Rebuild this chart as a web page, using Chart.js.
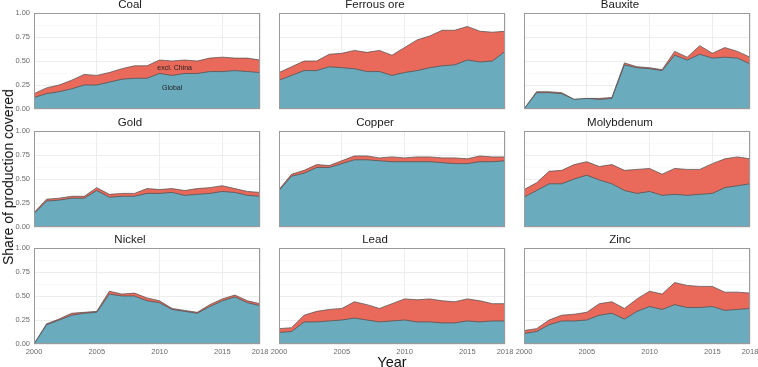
<!DOCTYPE html>
<html>
<head>
<meta charset="utf-8">
<title>Share of production covered</title>
<script src="https://cdn.jsdelivr.net/npm/chart.js@4.4.1/dist/chart.umd.min.js"></script>
<style>
  body { margin: 0; background: #fff; font-family: "Liberation Sans", Arial, sans-serif; }
  #wrap { position: relative; width: 758px; height: 367px; overflow: hidden; background: #fff; }
  #wrap canvas { position: absolute; }
  .axis-title { position: absolute; color: #111; font-weight: normal; white-space: nowrap; z-index: 2; }
  #ytitle { left: 7.5px; top: 177px; font-size: 14px; transform: translate(-50%, -50%) rotate(-90deg); }
  #xtitle { left: 392px; top: 362px; font-size: 14.5px; transform: translate(-50%, -50%); }
</style>
</head>
<body>
<div id="wrap">
  <div id="ytitle" class="axis-title">Share of production covered</div>
  <div id="xtitle" class="axis-title">Year</div>
</div>
<script>
// years on the x axis
const years = [2000, 2001, 2002, 2003, 2004, 2005, 2006, 2007, 2008, 2009,
               2010, 2011, 2012, 2013, 2014, 2015, 2016, 2017, 2018];
const xTicks = [2000, 2005, 2010, 2015, 2018];

// share of production covered
const coalGlobal = [0.12, 0.16, 0.18, 0.21, 0.25, 0.25, 0.28, 0.31, 0.32, 0.32, 0.37, 0.35, 0.37, 0.37, 0.39, 0.39, 0.40, 0.39, 0.38];
const coalExcl   = [0.16, 0.22, 0.25, 0.30, 0.36, 0.35, 0.38, 0.42, 0.45, 0.45, 0.51, 0.50, 0.51, 0.50, 0.53, 0.54, 0.53, 0.53, 0.51];
const ferrousGlobal = [0.30, 0.35, 0.40, 0.40, 0.44, 0.43, 0.42, 0.39, 0.39, 0.35, 0.38, 0.40, 0.43, 0.45, 0.46, 0.51, 0.49, 0.50, 0.60];
const ferrousExcl   = [0.38, 0.44, 0.50, 0.50, 0.57, 0.58, 0.61, 0.59, 0.61, 0.56, 0.64, 0.72, 0.76, 0.82, 0.82, 0.86, 0.81, 0.80, 0.81];
const bauxiteGlobal = [0.00, 0.17, 0.17, 0.16, 0.10, 0.11, 0.10, 0.11, 0.46, 0.43, 0.42, 0.40, 0.56, 0.51, 0.57, 0.53, 0.54, 0.53, 0.47];
const bauxiteExcl   = [0.00, 0.18, 0.18, 0.17, 0.10, 0.11, 0.11, 0.12, 0.48, 0.44, 0.43, 0.41, 0.60, 0.54, 0.66, 0.58, 0.64, 0.60, 0.54];
const goldGlobal = [0.14, 0.27, 0.28, 0.30, 0.30, 0.38, 0.31, 0.32, 0.32, 0.35, 0.35, 0.36, 0.33, 0.34, 0.35, 0.37, 0.36, 0.33, 0.32];
const goldExcl   = [0.15, 0.29, 0.30, 0.32, 0.32, 0.41, 0.34, 0.35, 0.35, 0.40, 0.39, 0.40, 0.38, 0.40, 0.41, 0.43, 0.40, 0.37, 0.36];
const copperGlobal = [0.38, 0.53, 0.56, 0.62, 0.62, 0.66, 0.70, 0.70, 0.69, 0.68, 0.68, 0.68, 0.68, 0.67, 0.66, 0.66, 0.68, 0.68, 0.69];
const copperExcl   = [0.39, 0.55, 0.59, 0.65, 0.64, 0.69, 0.74, 0.74, 0.72, 0.73, 0.72, 0.73, 0.73, 0.72, 0.72, 0.71, 0.74, 0.73, 0.73];
const molyGlobal = [0.31, 0.38, 0.45, 0.45, 0.50, 0.54, 0.49, 0.45, 0.38, 0.35, 0.37, 0.33, 0.34, 0.33, 0.34, 0.35, 0.41, 0.43, 0.45];
const molyExcl   = [0.39, 0.46, 0.58, 0.59, 0.65, 0.68, 0.63, 0.65, 0.59, 0.60, 0.61, 0.55, 0.61, 0.60, 0.60, 0.66, 0.71, 0.73, 0.71];
const nickelGlobal = [0.00, 0.20, 0.25, 0.30, 0.32, 0.33, 0.52, 0.50, 0.50, 0.45, 0.43, 0.36, 0.34, 0.32, 0.39, 0.45, 0.49, 0.43, 0.40];
const nickelExcl   = [0.00, 0.21, 0.26, 0.32, 0.33, 0.34, 0.55, 0.52, 0.53, 0.48, 0.45, 0.37, 0.35, 0.33, 0.41, 0.47, 0.51, 0.45, 0.42];
const leadGlobal = [0.12, 0.13, 0.23, 0.23, 0.24, 0.25, 0.27, 0.25, 0.23, 0.24, 0.25, 0.23, 0.23, 0.22, 0.22, 0.24, 0.23, 0.24, 0.24];
const leadExcl   = [0.16, 0.17, 0.30, 0.34, 0.36, 0.37, 0.44, 0.41, 0.37, 0.42, 0.47, 0.46, 0.47, 0.45, 0.44, 0.47, 0.45, 0.42, 0.42];
const zincGlobal = [0.11, 0.13, 0.20, 0.24, 0.24, 0.25, 0.30, 0.32, 0.26, 0.34, 0.39, 0.36, 0.41, 0.38, 0.38, 0.39, 0.35, 0.36, 0.37];
const zincExcl   = [0.14, 0.16, 0.25, 0.30, 0.31, 0.33, 0.42, 0.44, 0.37, 0.47, 0.55, 0.52, 0.64, 0.61, 0.60, 0.60, 0.54, 0.54, 0.53];

// in-panel labels on the Coal facet
const coalNotes = [
  { text: "excl. China", x: 2011.2, y: 0.43 },
  { text: "Global", x: 2011, y: 0.22 }
];

const panels = [
  { name: "Coal", global: coalGlobal, excl: coalExcl, notes: coalNotes },
  { name: "Ferrous ore", global: ferrousGlobal, excl: ferrousExcl },
  { name: "Bauxite", global: bauxiteGlobal, excl: bauxiteExcl },
  { name: "Gold", global: goldGlobal, excl: goldExcl },
  { name: "Copper", global: copperGlobal, excl: copperExcl },
  { name: "Molybdenum", global: molyGlobal, excl: molyExcl },
  { name: "Nickel", global: nickelGlobal, excl: nickelExcl },
  { name: "Lead", global: leadGlobal, excl: leadExcl },
  { name: "Zinc", global: zincGlobal, excl: zincExcl }
];

// facet geometry (plot area of each panel)
const colX = [34, 279, 524];
const rowY = [13, 131, 248];
const plotW = 226, plotH = 96;
const padL = 34, padR = 20, padT = 15, padB = 20;

const blue = "#6aabbd";
const red = "#e96a5b";
const edge = "#4a4a4a";
const font = "'Liberation Sans', Arial, sans-serif";

const toPoints = (vals) => vals.map((v, i) => ({ x: years[i], y: v }));

// grey frame around every facet
const panelBorder = {
  id: "panelBorder",
  afterDraw(chart) {
    const { ctx, chartArea: a } = chart;
    ctx.save();
    ctx.strokeStyle = "#9a9a9a";
    ctx.lineWidth = 1;
    ctx.strokeRect(a.left + 0.5, a.top + 0.5, a.width - 1, a.height - 1);
    ctx.restore();
  }
};

// text labels placed in data coordinates
const panelNotes = {
  id: "panelNotes",
  afterDatasetsDraw(chart, args, opts) {
    if (!opts.items) return;
    const { ctx, scales } = chart;
    ctx.save();
    ctx.font = "7px " + font;
    ctx.fillStyle = "#1f1f1f";
    ctx.textAlign = "center";
    ctx.textBaseline = "middle";
    opts.items.forEach((n) => {
      ctx.fillText(n.text, scales.x.getPixelForValue(n.x), scales.y.getPixelForValue(n.y));
    });
    ctx.restore();
  }
};

const wrap = document.getElementById("wrap");

panels.forEach((p, idx) => {
  const col = idx % 3, row = Math.floor(idx / 3);
  const canvas = document.createElement("canvas");
  const w = plotW + padL + padR, h = plotH + padT + padB;
  canvas.width = w;
  canvas.height = h;
  canvas.style.width = w + "px";
  canvas.style.height = h + "px";
  canvas.style.left = (colX[col] - padL) + "px";
  canvas.style.top = (rowY[row] - padT) + "px";
  wrap.insertBefore(canvas, wrap.firstChild);

  new Chart(canvas, {
    type: "line",
    data: {
      datasets: [
        { label: "Global", data: toPoints(p.global), backgroundColor: blue, borderColor: edge,
          borderWidth: 0.7, fill: "origin", pointRadius: 0, tension: 0 },
        { label: "excl. China", data: toPoints(p.excl), backgroundColor: red, borderColor: edge,
          borderWidth: 0.7, fill: "origin", pointRadius: 0, tension: 0 }
      ]
    },
    options: {
      responsive: false,
      animation: false,
      layout: { padding: { left: 0, right: padR, top: 0, bottom: 0 } },
      plugins: {
        legend: { display: false },
        tooltip: { enabled: false },
        title: {
          display: true,
          text: p.name,
          color: "#1a1a1a",
          font: { family: font, size: 11.5, weight: "normal", lineHeight: "12px" },
          padding: { top: 1, bottom: 2 }
        },
        panelNotes: { items: p.notes || null }
      },
      scales: {
        x: {
          type: "linear",
          min: 2000,
          max: 2018,
          afterBuildTicks: (scale) => { scale.ticks = xTicks.map((v) => ({ value: v })); },
          afterFit: (scale) => { scale.height = padB; },
          border: { display: false },
          grid: { color: "#e8e8e8", lineWidth: 0.8, drawTicks: false },
          ticks: {
            display: row === 2,
            autoSkip: false,
            maxRotation: 0,
            padding: 3,
            color: "#6b6b6b",
            font: { family: font, size: 7.5 },
            callback: (v) => String(v)
          }
        },
        y: {
          min: 0,
          max: 1,
          afterFit: (scale) => { scale.width = padL; },
          border: { display: false },
          grid: {
            drawTicks: false,
            color: (c) => (Math.round(c.tick.value * 1000) % 250 === 0 ? "#e8e8e8" : "#f3f3f3"),
            lineWidth: (c) => (Math.round(c.tick.value * 1000) % 250 === 0 ? 0.8 : 0.5)
          },
          ticks: {
            display: col === 0,
            stepSize: 0.125,
            autoSkip: false,
            padding: 4,
            color: "#6b6b6b",
            font: { family: font, size: 7.5 },
            callback: (v) => (Math.round(v * 1000) % 250 === 0 ? v.toFixed(2) : "")
          }
        }
      }
    },
    plugins: [panelBorder, panelNotes]
  });
});
</script>
</body>
</html>
